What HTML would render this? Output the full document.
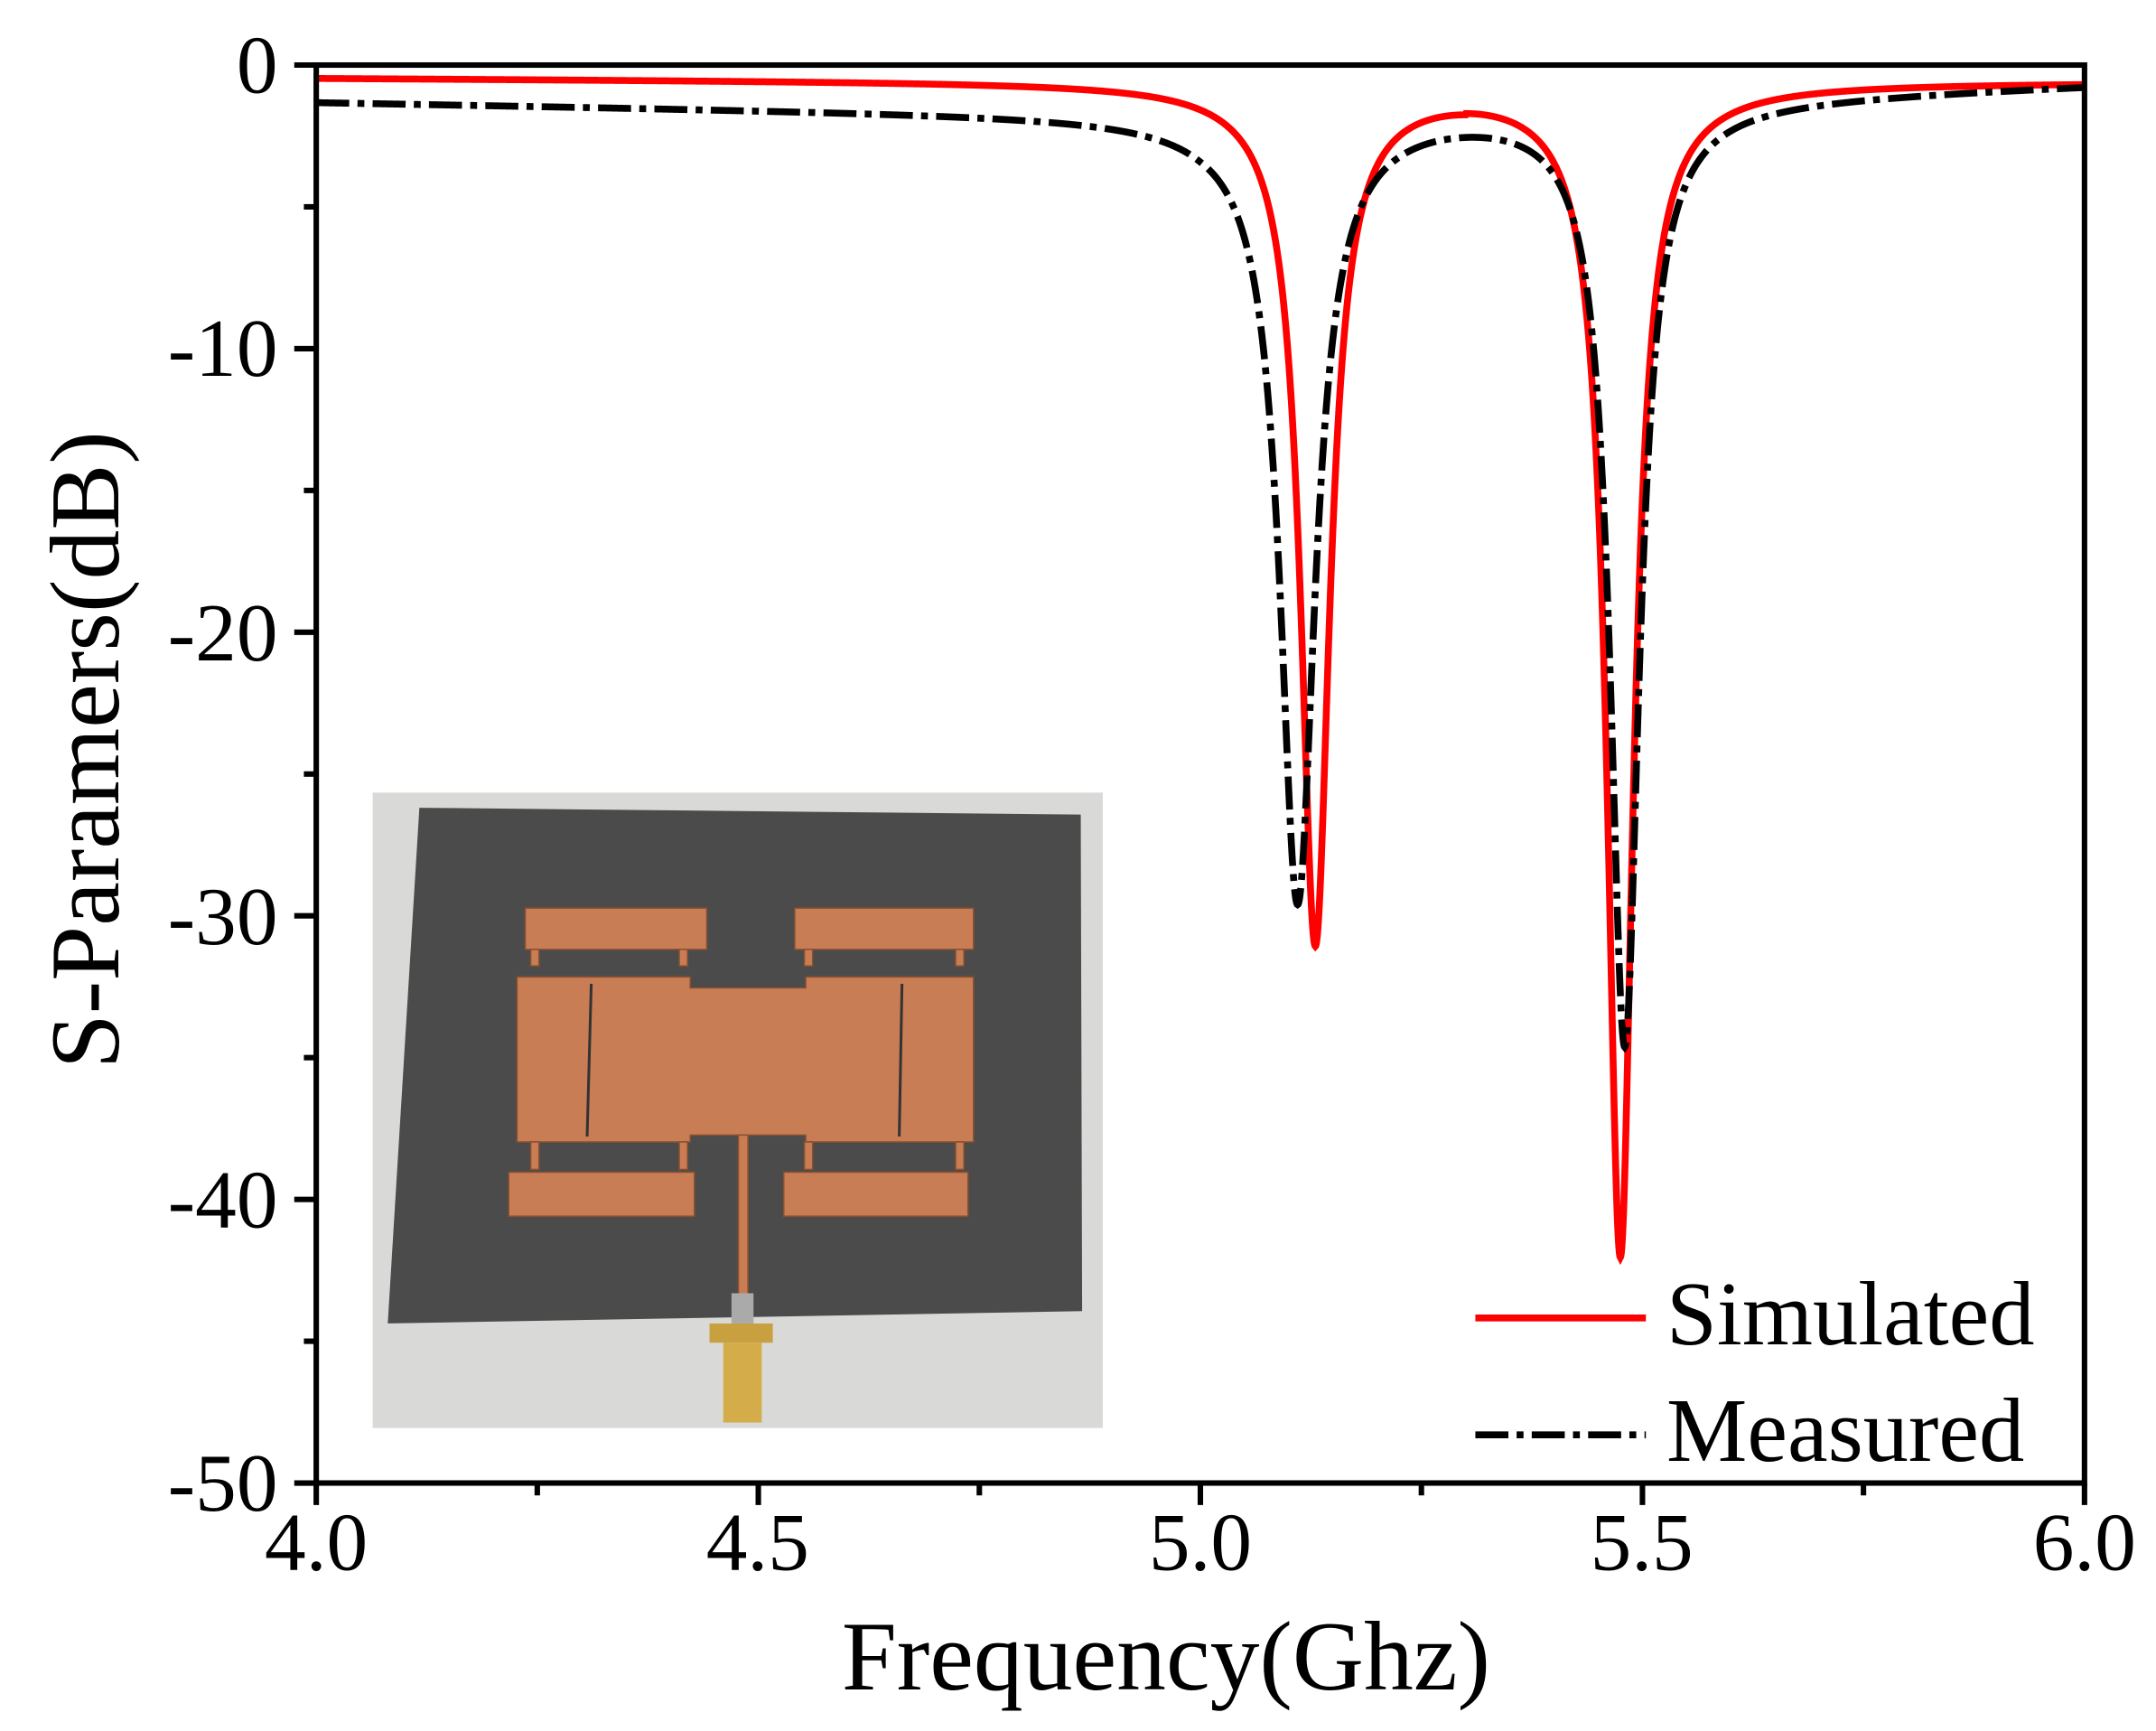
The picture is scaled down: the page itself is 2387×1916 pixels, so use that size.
<!DOCTYPE html>
<html><head><meta charset="utf-8"><style>
html,body{margin:0;padding:0;background:#fff}
svg{display:block}
text{font-family:"Liberation Serif",serif;fill:#000}
</style></head><body>
<svg id="s" width="2387" height="1916" viewBox="0 0 1568 1258" xmlns="http://www.w3.org/2000/svg">
<rect width="1568" height="1258" fill="#fff"/>
<rect x="271" y="576" width="531" height="462" fill="#d9d9d7"/>
<polygon points="305,587 786,592 787,953 282,962" fill="#4b4b4b"/>
<g fill="#c97d55" stroke="#8a5030" stroke-width="1">
<rect x="382" y="660" width="132" height="30"/>
<rect x="578" y="660" width="130" height="30"/>
<rect x="386" y="690" width="6" height="12"/><rect x="494" y="690" width="6" height="12"/>
<rect x="585" y="690" width="6" height="12"/><rect x="695" y="690" width="6" height="12"/>
<polygon points="376,710 502,710 502,718 586,718 586,710 708,710 708,830 586,830 586,825 502,825 502,830 376,830"/>
<rect x="386" y="830" width="6" height="20"/><rect x="494" y="830" width="6" height="20"/>
<rect x="585" y="830" width="6" height="20"/><rect x="695" y="830" width="6" height="20"/>
<rect x="370" y="852" width="135" height="32"/>
<rect x="570" y="852" width="134" height="32"/>
<rect x="537" y="825" width="7" height="120"/>
</g>
<line x1="430" y1="715" x2="427" y2="826" stroke="#333" stroke-width="2"/>
<line x1="656" y1="715" x2="654" y2="826" stroke="#333" stroke-width="2"/>
<rect x="532" y="940" width="16" height="22" fill="#aaa"/>
<rect x="516" y="962" width="46" height="14" fill="#c9a040"/>
<rect x="526" y="976" width="28" height="58" fill="#d4ad4a"/>
<path id="red" fill="none" stroke="#ff0000" stroke-width="5"/>
<path id="blk" fill="none" stroke="#000" stroke-width="5" stroke-dasharray="24 6 5 6"/>
<g stroke="#000" stroke-width="4" fill="none">
<rect x="230" y="47" width="1286" height="1031"/>
</g>
<g id="ticks" stroke="#000" stroke-width="4"></g>
<g font-size="60" text-anchor="end">
<text x="202" y="67">0</text>
<text x="202" y="273">-10</text>
<text x="202" y="480">-20</text>
<text x="202" y="686">-30</text>
<text x="202" y="892">-40</text>
<text x="202" y="1098">-50</text>
</g>
<g font-size="60" text-anchor="middle">
<text x="230" y="1141">4.0</text>
<text x="551" y="1141">4.5</text>
<text x="873" y="1141">5.0</text>
<text x="1194" y="1141">5.5</text>
<text x="1516" y="1141">6.0</text>
</g>
<text x="848" y="1228" font-size="72" text-anchor="middle">Frequency(Ghz)</text>
<text transform="translate(86,545) rotate(-90)" font-size="72" text-anchor="middle">S-Paramers(dB)</text>
<line x1="1073" y1="958" x2="1197" y2="958" stroke="#ff0000" stroke-width="5"/>
<line x1="1073" y1="1043" x2="1197" y2="1043" stroke="#000" stroke-width="5" stroke-dasharray="24 6 5 6"/>
<text x="1212" y="977" font-size="66">Simulated</text>
<text x="1212" y="1062" font-size="66">Measured</text>
</svg>
<script>
function X(f){return 230+(f-4)*643}
function Y(d){return 47-d*20.62}
function L(f,f0,a,w){var t=(f-f0)/w;return -a/(1+t*t)}
function red(f){var b=-0.45-0.15*(f-4);if(f>5.3)b=-0.6;return b+L(f,5.13,29.5,0.02)+L(f,5.475,40.5,0.018)+L(f,5.13,0.8,0.08)+L(f,5.475,0.8,0.08)}
function blk(f){var b=f<5?-1.3-0.5*(f-4):-1.8+1.1*(f-5);if(b>-0.7)b=-0.7;return b+L(f,5.11,27,0.024)+L(f,5.48,32.5,0.02)+L(f,5.11,0.8,0.09)+L(f,5.48,0.7,0.08)}
function path(fn){var s="";for(var i=0;i<=4000;i++){var f=4+i*2/4000;s+=(i?"L":"M")+X(f).toFixed(2)+","+Y(fn(f)).toFixed(2)}return s}
document.getElementById("red").setAttribute("d",path(red));
document.getElementById("blk").setAttribute("d",path(blk));
var g=document.getElementById("ticks"),h="";
for(var i=0;i<=8;i++){var x=230+i*643/4;var len=i%2?9:16;h+='<line x1="'+x+'" y1="1078" x2="'+x+'" y2="'+(1078+len)+'"/>'}
for(var j=0;j<=10;j++){var y=47+j*103.1;var len=j%2?9:16;h+='<line x1="230" y1="'+y+'" x2="'+(230-len)+'" y2="'+y+'"/>'}
g.innerHTML=h;
</script>
</body></html>
